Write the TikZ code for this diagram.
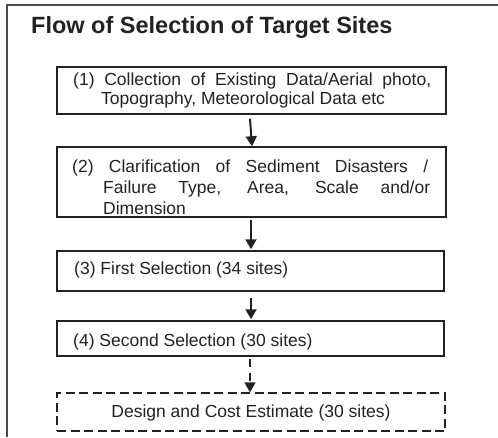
\documentclass[tikz,border=0pt]{standalone}
\usepackage{fontspec}
\setmainfont{Liberation Sans}
\usetikzlibrary{arrows.meta,calc}
\definecolor{ink}{HTML}{222222}
\definecolor{frame}{HTML}{4A4A4A}
\begin{document}
\begin{tikzpicture}[x=1pt,y=-1pt,
  stepbox/.style={draw=ink,line width=1.5pt,rectangle,inner sep=0pt},
  dashbox/.style={stepbox,line width=1.3pt,dash pattern=on 9pt off 4.5pt},
  txt/.style={inner sep=0pt,text=ink,font=\fontsize{17.5}{21}\selectfont},
  flow/.style={draw=ink,line width=2pt,-{Triangle[length=10pt,width=11pt]}},
  dflow/.style={draw=ink,line width=1.6pt,dash pattern=on 8pt off 6pt,-{Triangle[length=10pt,width=11pt]}}]
\useasboundingbox (0,0) rectangle (498,437);
% open frame: top and left edges only
\draw[frame,line width=1.2pt] (7,437) -- (7,5) -- (498,5);
\node[anchor=base west,inner sep=0pt,text=ink,font=\fontsize{23.5}{28}\bfseries] (title) at (31,33) {Flow of Selection of Target Sites};
% boxes
\node[stepbox,minimum width=389pt,minimum height=47pt] (b1) at (251.5,90.5) {};
\node[stepbox,minimum width=389pt,minimum height=70pt] (b2) at (251.5,182) {};
\node[stepbox,minimum width=387pt,minimum height=40pt] (b3) at (250.5,271) {};
\node[stepbox,minimum width=387pt,minimum height=35pt] (b4) at (250.5,338.5) {};
\node[dashbox,minimum width=388pt,minimum height=38pt] (b5) at (251,412) {};
% box texts
\node[txt,anchor=base west] (t1) at (73,85) {\parbox[t]{360pt}{\baselineskip=19pt
  \makebox[358pt][s]{(1) Collection of Existing Data/Aerial photo,}\\
  \hspace*{28pt}Topography, Meteorological Data etc}};
\node[txt,anchor=base west] (t2) at (72,172) {\parbox[t]{360pt}{\baselineskip=21pt
  \makebox[356pt][s]{(2) Clarification of Sediment Disasters /}\\
  \hspace*{31pt}\makebox[327pt][s]{Failure Type, Area, Scale and/or}\\
  \hspace*{31pt}Dimension}};
\node[txt,anchor=base west] (t3) at (74,274) {(3) First Selection (34 sites)};
\node[txt,anchor=base west] (t4) at (73,346) {(4) Second Selection (30 sites)};
\node[txt,anchor=base] (t5) at (251,417) {Design and Cost Estimate (30 sites)};
% connectors
\draw[flow] ($(b1.south)+(-1.5,4)$) -- ($(b2.north)+(0.5,0)$);
\draw[flow] ($(b2.south)+(-0.5,2)$) -- ($(b3.north)+(0.5,-1)$);
\draw[flow] ($(b3.south)+(0.5,6)$) -- ($(b4.north)+(0.5,-1)$);
\draw[dflow] ($(b4.south)+(-0.5,2)$) -- ($(b5.north)+(-1,0)$);
\end{tikzpicture}
\end{document}
